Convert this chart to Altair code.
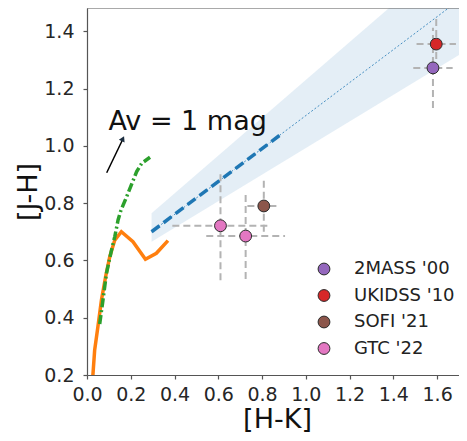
import altair as alt
import pandas as pd

# ---------------- data ----------------
X_DOMAIN = [0.0, 1.70]
Y_DOMAIN = [0.2, 1.481]
X_TICKS = [0.0, 0.2, 0.4, 0.6, 0.8, 1.0, 1.2, 1.4, 1.6]
Y_TICKS = [0.2, 0.4, 0.6, 0.8, 1.0, 1.2, 1.4]

# dwarf locus (orange)
dwarf_hk = [0.027, 0.035, 0.050, 0.066, 0.085, 0.104, 0.127, 0.157, 0.210, 0.267, 0.317, 0.370]
dwarf_jh = [0.200, 0.287, 0.369, 0.462, 0.543, 0.613, 0.671, 0.700, 0.665, 0.604, 0.625, 0.669]

# giant locus (green dash-dot)
giant_hk = [0.058, 0.073, 0.089, 0.112, 0.127, 0.142, 0.153, 0.165, 0.181, 0.205, 0.227, 0.250, 0.288]
giant_jh = [0.378, 0.462, 0.555, 0.636, 0.683, 0.741, 0.770, 0.793, 0.822, 0.868, 0.910, 0.939, 0.960]

# reddening band (light blue wedge)
band_hk = [0.295, 1.75]
band_lo = [0.665, 1.340]
band_hi = [0.765, 1.725]

# thin centre line of the band
centre_hk = [0.295, 1.75]
centre_jh = [0.700, 1.537]

# thick dashed reddening vector
vector_hk = [0.295, 0.895]
vector_jh = [0.700, 1.045]

# extinction arrow + label
arrow_hk = [0.090, 0.163]
arrow_jh = [0.906, 1.022]
arrow_tip_hk = [0.164]
arrow_tip_jh = [1.025]
label_hk = [0.098]
label_jh = [1.055]
label_txt = ["Av = 1 mag"]

# observations
surveys = ["2MASS '00", "UKIDSS '10", "SOFI '21", "GTC '22"]
survey_colors = ["#9467bd", "#d62728", "#8c564b", "#e377c2"]
obs_survey = ["2MASS '00", "UKIDSS '10", "SOFI '21", "GTC '22", "GTC '22"]
obs_hk = [1.581, 1.596, 0.808, 0.610, 0.725]
obs_jh = [1.272, 1.355, 0.790, 0.721, 0.685]
obs_hk_err = [0.090, 0.090, 0.075, 0.220, 0.180]
obs_jh_err = [0.140, 0.090, 0.090, 0.190, 0.150]

# ---------------- tables ----------------
dwarf = pd.DataFrame({"hk": dwarf_hk, "jh": dwarf_jh, "i": range(len(dwarf_hk))})
giant = pd.DataFrame({"hk": giant_hk, "jh": giant_jh, "i": range(len(giant_hk))})
band = pd.DataFrame({"hk": band_hk, "lo": band_lo, "hi": band_hi})
centre = pd.DataFrame({"hk": centre_hk, "jh": centre_jh})
vector = pd.DataFrame({"hk": vector_hk, "jh": vector_jh})
arrow = pd.DataFrame({"hk": [arrow_hk[0]], "jh": [arrow_jh[0]], "hk2": [arrow_hk[1]], "jh2": [arrow_jh[1]]})
tip = pd.DataFrame({"hk": arrow_tip_hk, "jh": arrow_tip_jh})
label = pd.DataFrame({"hk": label_hk, "jh": label_jh, "t": label_txt})
obs = pd.DataFrame({"survey": obs_survey, "hk": obs_hk, "jh": obs_jh,
                    "hke": obs_hk_err, "jhe": obs_jh_err})
obs["hk_lo"] = obs["hk"] - obs["hke"]
obs["hk_hi"] = obs["hk"] + obs["hke"]
obs["jh_lo"] = obs["jh"] - obs["jhe"]
obs["jh_hi"] = obs["jh"] + obs["jhe"]

FONT = "DejaVu Sans"
xscale = alt.Scale(domain=X_DOMAIN, nice=False, zero=False)
yscale = alt.Scale(domain=Y_DOMAIN, nice=False, zero=False)
xaxis = alt.Axis(title="[H-K]", values=X_TICKS, format=".1f", titleX=190, titleY=44,
                 titleBaseline="middle")
yaxis = alt.Axis(title="[J-H]", values=Y_TICKS, format=".1f", titleX=-59, titleBaseline="middle")


def X(f):
    return alt.X(f, type="quantitative", scale=xscale, axis=xaxis)


def Y(f):
    return alt.Y(f, type="quantitative", scale=yscale, axis=yaxis)


band_l = alt.Chart(band).mark_area(color="#1f77b4", opacity=0.12, clip=True).encode(
    x=X("hk"), y=Y("lo"), y2=alt.Y2("hi"))

centre_l = alt.Chart(centre).mark_line(color="#1f77b4", strokeWidth=1, strokeDash=[2, 2],
                                       opacity=0.8, clip=True).encode(x=X("hk"), y=Y("jh"))

vector_l = alt.Chart(vector).mark_line(color="#1f77b4", strokeWidth=3.5, strokeDash=[10, 5],
                                       clip=True).encode(x=X("hk"), y=Y("jh"))

dwarf_l = alt.Chart(dwarf).mark_line(color="#ff7f0e", strokeWidth=3.5, clip=True).encode(
    x=X("hk"), y=Y("jh"), order="i:Q")

giant_l = alt.Chart(giant).mark_line(color="#2ca02c", strokeWidth=3.5, strokeDash=[9, 3, 2, 3],
                                     clip=True).encode(x=X("hk"), y=Y("jh"), order="i:Q")

arrow_l = alt.Chart(arrow).mark_rule(color="black", strokeWidth=1.5).encode(
    x=X("hk"), y=Y("jh"), x2=alt.X2("hk2"), y2=alt.Y2("jh2"))

tip_l = alt.Chart(tip).mark_point(shape="triangle-up", filled=True, size=40, angle=25,
                                  color="#1c2e40", opacity=1).encode(x=X("hk"), y=Y("jh"))

label_l = alt.Chart(label).mark_text(align="left", baseline="alphabetic", fontSize=27,
                                     font=FONT, color="#111").encode(
    x=X("hk"), y=Y("jh"), text="t:N")

frame_top = alt.Chart(label).mark_rule(color="#555", strokeWidth=1.2).encode(
    x=alt.datum(X_DOMAIN[0]), x2=alt.datum(X_DOMAIN[1]), y=alt.datum(Y_DOMAIN[1]))

err_h = alt.Chart(obs).mark_rule(color="#b3b3b3", strokeWidth=2, strokeDash=[7, 4]).encode(
    x=X("hk_lo"), x2=alt.X2("hk_hi"), y=Y("jh"))
err_v = alt.Chart(obs).mark_rule(color="#b3b3b3", strokeWidth=2, strokeDash=[7, 4]).encode(
    x=X("hk"), y=Y("jh_lo"), y2=alt.Y2("jh_hi"))

pts = alt.Chart(obs).mark_circle(size=140, opacity=1, stroke="#2b2b2b", strokeWidth=1).encode(
    x=X("hk"), y=Y("jh"),
    color=alt.Color("survey:N", scale=alt.Scale(domain=surveys, range=survey_colors),
                    legend=alt.Legend(title=None, orient="none", legendX=228, legendY=252,
                                      labelFontSize=18, labelFont=FONT, labelColor="#222",
                                      symbolType="circle", symbolSize=140,
                                      symbolStrokeColor="#2b2b2b", symbolStrokeWidth=1,
                                      symbolOpacity=1, rowPadding=8.5, labelOffset=21,
                                      padding=0)))

chart = alt.layer(band_l, centre_l, vector_l, dwarf_l, giant_l, arrow_l, tip_l, label_l,
                  err_h, err_v, pts, frame_top).properties(
    width=372, height=367,
    autosize=alt.AutoSizeParams(type="none"),
    padding={"left": 79, "top": 0, "right": 0, "bottom": 58},
).configure_view(stroke=None).configure_axis(
    grid=False, domainColor="#555", domainWidth=1.2, tickColor="#555", tickWidth=1.2,
    tickSize=4, labelFontSize=19, labelFont=FONT, labelColor="#262626",
    titleFontSize=27, titleFont=FONT, titleFontWeight="normal", titleColor="#111",
    labelFlush=False, labelOverlap=False,
).configure_axisX(labelPadding=6).configure_axisY(labelPadding=9)

chart.save("out.html", embed_options={"renderer": "svg", "actions": False})
